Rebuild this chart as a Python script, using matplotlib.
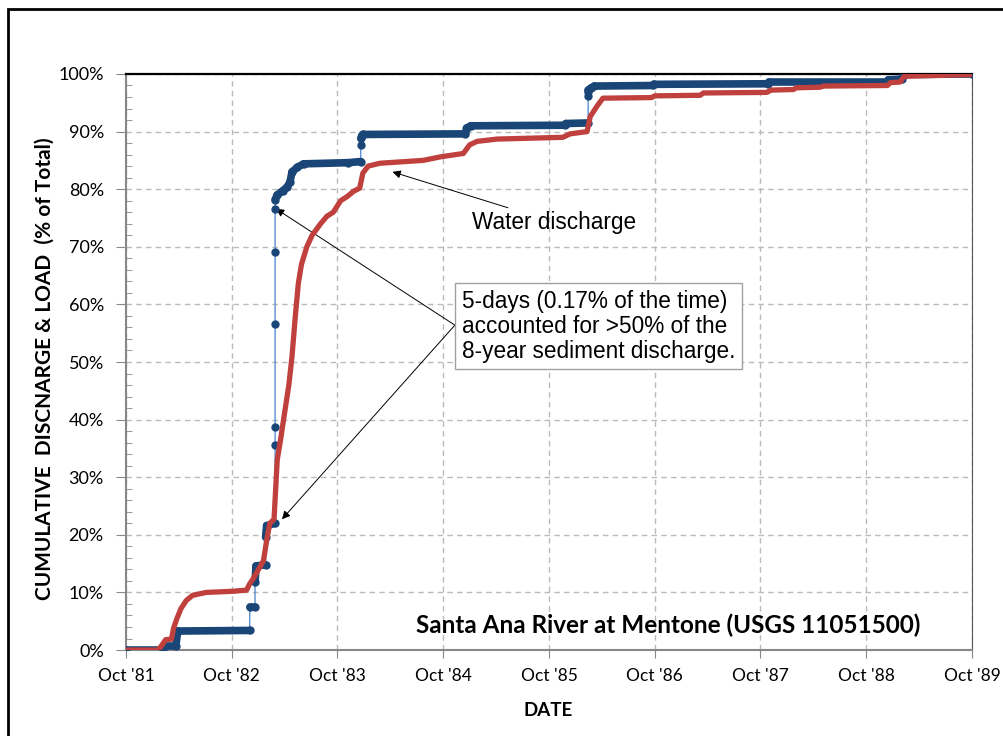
import numpy as np
import matplotlib.pyplot as plt
from matplotlib.patches import Rectangle

plt.rcParams['font.family'] = ['Lato', 'DejaVu Sans']

# years after 1 Oct 1981 / cumulative percent of the 8-year total
load_yr = [0.00, 0.35, 0.36, 0.47, 0.49, 1.17, 1.17, 1.22, 1.22, 1.23, 1.32, 1.32, 1.33, 1.41,
           1.41, 1.41, 1.41, 1.41, 1.41, 1.41, 1.43, 1.48, 1.52, 1.55, 1.57, 1.62, 1.68,
           2.10, 2.22, 2.22, 2.22, 2.23, 2.24, 3.21, 3.22, 3.26, 4.15, 4.16, 4.37,
           4.37, 4.37, 4.37, 4.40, 4.43, 4.98, 4.99, 6.07, 6.08, 7.20, 7.21, 7.34, 7.35, 8.00]
load_pct = [0.0, 0.0, 0.7, 0.7, 3.3, 3.4, 7.4, 7.4, 11.8, 14.6, 14.8, 19.6, 21.6, 22.0,
            35.6, 38.8, 56.6, 69.1, 76.6, 78.2, 79.0, 79.7, 80.3, 81.2, 83.0, 83.8, 84.4,
            84.6, 84.8, 87.7, 88.8, 89.3, 89.5, 89.6, 90.6, 91.0, 91.1, 91.4, 91.5,
            96.2, 96.8, 97.2, 97.6, 97.9, 98.0, 98.2, 98.3, 98.6, 98.6, 99.0, 99.1, 99.9, 100.0]

flow_yr = [0.00, 0.30, 0.33, 0.375, 0.43, 0.45, 0.48, 0.52, 0.57, 0.63, 0.76, 1.01, 1.14, 1.17,
           1.20, 1.24, 1.30, 1.33, 1.36, 1.40, 1.43, 1.46, 1.49, 1.54, 1.57, 1.60, 1.63, 1.66,
           1.71, 1.76, 1.84, 1.90, 1.96, 2.03, 2.09, 2.15, 2.21, 2.24, 2.29, 2.40, 2.81,
           2.97, 3.19, 3.25, 3.32, 3.51, 4.13, 4.20, 4.36, 4.39, 4.45, 4.51, 4.97, 5.00,
           5.43, 5.46, 6.06, 6.10, 6.31, 6.34, 6.56, 6.60, 7.20, 7.23, 7.32, 7.36, 8.00]
flow_pct = [0.0, 0.0, 0.6, 1.8, 1.9, 3.8, 5.4, 7.2, 8.6, 9.5, 10.0, 10.2, 10.4, 11.5,
            12.3, 13.6, 15.5, 19.0, 22.0, 22.7, 33.0, 36.3, 40.0, 46.0, 51.0, 57.7, 63.7, 67.0,
            70.0, 72.0, 74.0, 75.3, 76.0, 78.0, 78.7, 79.6, 80.2, 82.8, 84.0, 84.5, 85.0,
            85.6, 86.2, 87.7, 88.3, 88.7, 89.0, 89.6, 90.0, 92.6, 94.3, 95.8, 95.9, 96.2,
            96.3, 96.7, 96.8, 97.2, 97.3, 97.6, 97.7, 97.9, 98.0, 98.5, 98.6, 99.6, 99.9]

tick_labels = ["Oct '81", "Oct '82", "Oct '83", "Oct '84", "Oct '85",
               "Oct '86", "Oct '87", "Oct '88", "Oct '89"]

navy = '#1A4677'
red = '#C0403D'

fig = plt.figure(figsize=(10.04, 7.36), dpi=100)
ax = fig.add_axes([0.1255, 0.1168, 0.8426, 0.7827])

# sediment load: dense daily dots, thin line on the jumps
ly = np.array(load_yr)
lp = np.array(load_pct)
ax.plot(ly, lp, color='#5B8FD0', lw=1, zorder=3)
for i in range(len(ly) - 1):
    if ly[i + 1] > ly[i]:
        ax.plot(ly[i:i + 2], lp[i:i + 2], color=navy, lw=5.5, solid_capstyle='round', zorder=3)
ax.plot(ly, lp, 'o', color=navy, ms=5, zorder=4)

# water discharge
ax.plot(flow_yr, flow_pct, color=red, lw=3.8, solid_capstyle='round', zorder=5)

ax.set_xlim(0, 8)
ax.set_ylim(0, 100)
ax.set_xticks(range(9))
ax.set_xticklabels(tick_labels)
ax.set_yticks(range(0, 101, 10))
ax.set_yticklabels([f'{v}%' for v in range(0, 101, 10)])
ax.set_yticks(range(0, 101, 2), minor=True)
ax.tick_params(axis='y', which='major', direction='out', length=7, color='#888888', pad=9, labelsize=13)
ax.tick_params(axis='y', which='minor', direction='in', length=4, color='#888888')
ax.tick_params(axis='x', direction='out', length=6, color='#888888', pad=7, labelsize=12.5)
ax.grid(True, which='major', color='#BBBBBB', ls=(0, (4, 3)), lw=1)
ax.set_axisbelow(True)

ax.spines['top'].set_color('black')
ax.spines['top'].set_linewidth(1.6)
ax.spines['left'].set_color('#888888')
ax.spines['left'].set_linewidth(1.5)
ax.spines['bottom'].set_color('#888888')
ax.spines['bottom'].set_linewidth(1.5)
ax.spines['right'].set_color('#555555')

fig.text(45 / 1004, 1 - 369 / 736, 'CUMULATIVE  DISCNARGE & LOAD  (% of Total)', rotation=90,
         ha='center', va='center', fontsize=15, fontweight='bold')
fig.text(548 / 1004, 1 - 711 / 736, 'DATE', ha='center', va='center', fontsize=13.5, fontweight='bold')

ax.text(2.74, 4.3, 'Santa Ana River at Mentone (USGS 11051500)', fontsize=17.5, fontweight='bold',
        va='center', ha='left')

# annotations
afont = dict(family=['Liberation Sans', 'DejaVu Sans'], fontsize=16.3)
arrow = dict(arrowstyle='-|>', color='black', lw=0.7, mutation_scale=12, shrinkA=0, shrinkB=0)
ax.annotate('Water discharge', xy=(2.52, 83.0), xytext=(3.27, 74.3), va='center', ha='left',
            arrowprops=arrow, **afont)
ax.text(3.18, 56.2, '5-days (0.17% of the time)\naccounted for >50% of the\n8-year sediment discharge.',
        va='center', ha='left', linespacing=1.1, zorder=6,
        bbox=dict(boxstyle='square,pad=0.3', fc='white', ec='#A0A0A0', lw=1), **afont)
ax.annotate('', xy=(1.418, 76.6), xytext=(3.11, 56.4), arrowprops=arrow)
ax.annotate('', xy=(1.475, 22.7), xytext=(3.11, 56.4), arrowprops=arrow)

# frame around the figure (cut at right and bottom)
fig.patches.append(Rectangle((8 / 1004, -0.1), 1.2, 1.1 - 9 / 736, transform=fig.transFigure,
                             fill=False, ec='black', lw=2))

fig.savefig('out.png', dpi=100)
